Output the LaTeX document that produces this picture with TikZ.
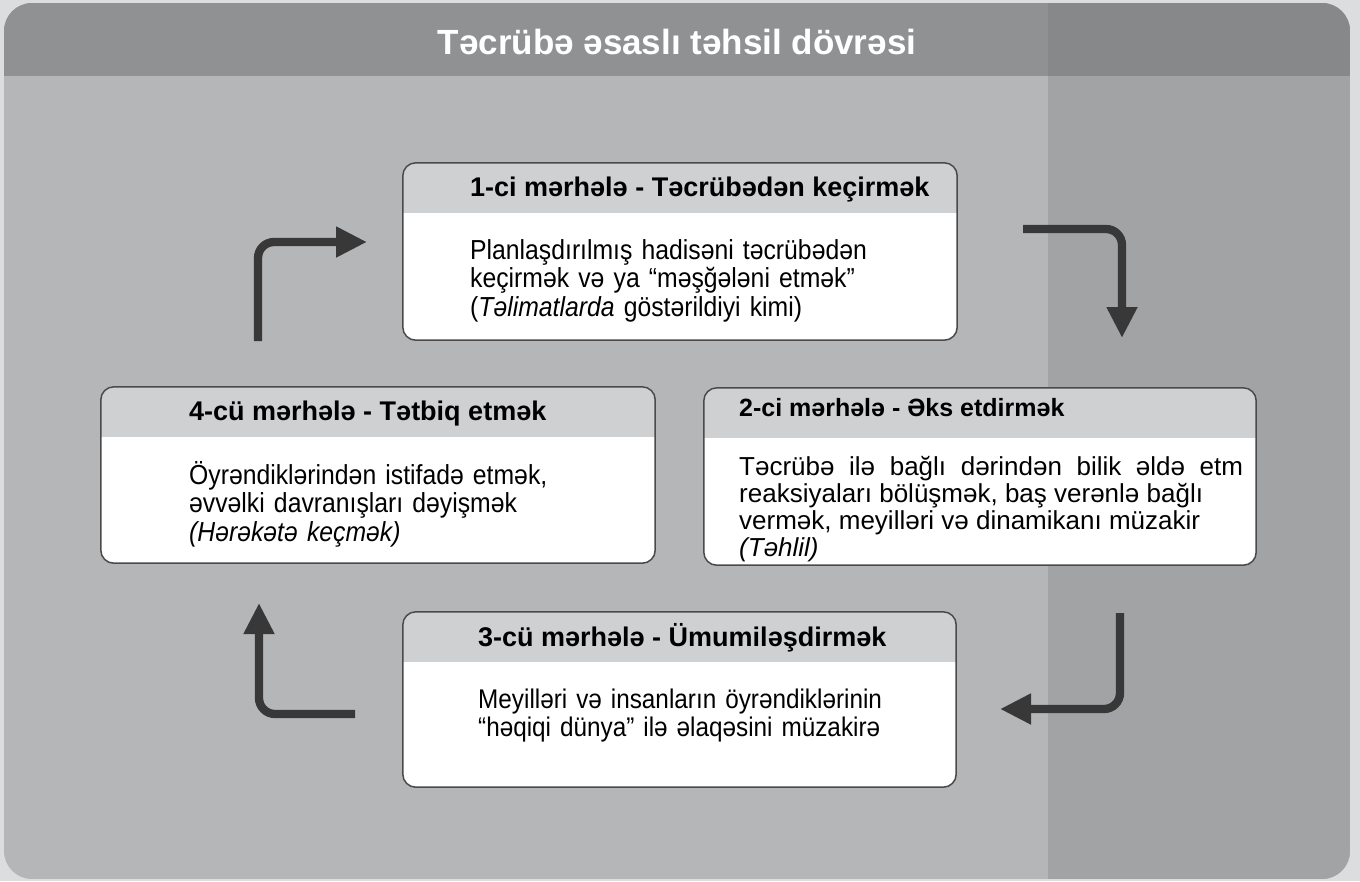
\documentclass[tikz,border=0pt]{standalone}
\usepackage{fontspec}
\setmainfont{Liberation Sans}
\newfontfamily\narrowsans[FakeStretch=0.9,WordSpace=0.9]{Liberation Sans}
\usepackage{tikz}
\usetikzlibrary{arrows.meta,positioning,calc}
\definecolor{pnlout}{HTML}{DCDDDF}
\definecolor{pnlbody}{HTML}{B5B6B8}
\definecolor{pnlside}{HTML}{A2A3A5}
\definecolor{pnlhead}{HTML}{909193}
\definecolor{pnlheadside}{HTML}{87888A}
\definecolor{boxhead}{HTML}{CFD0D2}
\definecolor{boxline}{HTML}{4A4A4A}
\definecolor{arrowc}{HTML}{383838}

\begin{document}
\begin{tikzpicture}[x=1pt,y=-1pt,
  stage/.style={fill=white,inner sep=0pt,rounded corners=13pt},
  boxrim/.style={draw=boxline,line width=1.5pt,rounded corners=13pt},
  hd/.style={anchor=base west,inner sep=0pt,font=\bfseries\fontsize{27}{30}\selectfont},
  bd/.style={anchor=base west,inner sep=0pt,text width=#1,align=left,font=\narrowsans\fontsize{27.5}{28.5}\selectfont},
  bd/.default=480pt,
  flow/.style={-{Triangle[length=31pt,width=29pt]},draw=arrowc,line width=8.3pt,rounded corners=16pt}]
\useasboundingbox (0,0) rectangle (1360,881);
\fill[pnlout] (0,0) rectangle (1360,881);
\begin{scope}
  \clip[rounded corners=28pt] (4,3) rectangle (1350,879);
  \fill[pnlbody] (4,3) rectangle (1350,879);
  \fill[pnlside] (1048,3) rectangle (1350,879);
  \fill[pnlhead] (4,3) rectangle (1048,76);
  \fill[pnlheadside] (1048,3) rectangle (1350,76);
\end{scope}
\node[font=\bfseries\fontsize{35}{40}\selectfont,text=white,anchor=base,inner sep=0pt] (ttl) at (677,54) {Təcrübə əsaslı təhsil dövrəsi};

\node[stage,minimum width=554pt,minimum height=177pt] (b1) at (680,251.5) {};
\node[stage,minimum width=552pt,minimum height=177pt] (b2) at (980,476.5) {};
\node[stage,minimum width=553pt,minimum height=175pt] (b3) at (679.5,699.5) {};
\node[stage,minimum width=554pt,minimum height=176pt] (b4) at (378,475) {};
\foreach \b in {b1,b2,b3,b4}{
  \begin{scope}
    \clip[rounded corners=13pt] (\b.north west) rectangle (\b.south east);
    \fill[boxhead] (\b.north west) rectangle ([yshift=-50pt]\b.north east);
  \end{scope}
  \draw[boxrim] (\b.north west) rectangle (\b.south east);
}

\node[hd] (h1) at (470,196) {1-ci mərhələ - Təcrübədən keçirmək};
\node[bd] (t1) at (470,259) {Planlaşdırılmış hadisəni təcrübədən\newline keçirmək və ya “məşğələni etmək”\newline (\textit{Təlimatlarda} göstərildiyi kimi)};
\node[hd,font=\bfseries\fontsize{25}{28}\selectfont] (h2) at (739,416) {2-ci mərhələ - Əks etdirmək};
\node[bd=504pt,align=justify,font=\fontsize{26}{27}\selectfont] (t2) at (739,475) {Təcrübə ilə bağlı dərindən bilik əldə etm\linebreak reaksiyaları bölüşmək, baş verənlə bağlı\newline vermək, meyilləri və dinamikanı müzakir\newline \textit{(Təhlil)}};
\node[hd] (h3) at (478,646) {3-cü mərhələ - Ümumiləşdirmək};
\node[bd,font=\narrowsans\fontsize{27}{28.5}\selectfont] (t3) at (478,708) {Meyilləri və insanların öyrəndiklərinin\newline “həqiqi dünya” ilə əlaqəsini müzakirə};
\node[hd] (h4) at (189,420) {4-cü mərhələ - Tətbiq etmək};
\node[bd] (t4) at (189,484) {Öyrəndiklərindən istifadə etmək,\newline əvvəlki davranışları dəyişmək\newline \textit{(Hərəkətə keçmək)}};

\coordinate (p1) at (258,341);
\coordinate (q1) at (367,242);
\coordinate (p2) at (1023,229);
\coordinate (q2) at (1122,338);
\coordinate (p3) at (1120,613);
\coordinate (q3) at (1000,709);
\coordinate (p4) at (355,714);
\coordinate (q4) at (259,603);
\draw[flow] (p1) |- (q1);
\draw[flow] (p2) -| (q2);
\draw[flow] (p3) |- (q3);
\draw[flow] (p4) -| (q4);
\end{tikzpicture}
\end{document}
